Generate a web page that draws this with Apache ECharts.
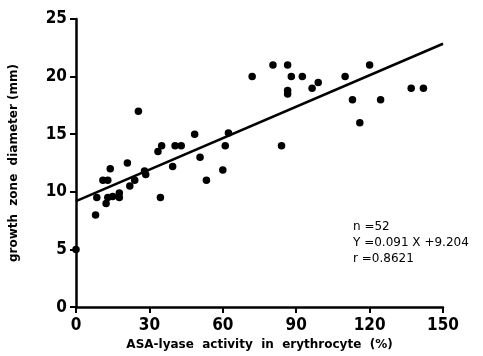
<!DOCTYPE html>
<html>
<head>
<meta charset="utf-8">
<script src="https://cdn.jsdelivr.net/npm/echarts@6/dist/echarts.min.js"></script>
<style>
  html, body { margin: 0; padding: 0; background: #fff; }
  #chart { width: 483px; height: 356px; }
</style>
</head>
<body>
<div id="chart"></div>
<script>
// ASA-lyase activity (%) vs growth zone diameter (mm)
const activity = [0, 8, 8.5, 11, 13, 12.3, 13, 15, 17.7, 17.7, 14, 21, 22, 24, 25.5, 28, 28.5,
  34.5, 33.5, 35, 39.5, 40.5, 43, 48.5, 50.7, 53.3, 60, 61, 62.3,
  72, 80.5, 84, 86.5, 86.5, 86.5, 88, 92.5, 96.5, 99, 110, 113, 116, 120, 124.5, 137, 142]
const diameter = [5, 8, 9.5, 11, 11, 9, 9.5, 9.6, 9.9, 9.5, 12, 12.5, 10.5, 11, 17, 11.8, 11.5,
  9.5, 13.5, 14, 12.2, 14, 14, 15, 13, 11, 11.9, 14, 15.1,
  20, 21, 14, 21, 18.8, 18.5, 20, 20, 19, 19.5, 20, 18, 16, 21, 18, 19, 19]
const slope = 0.091
const intercept = 9.204
const fitRange = [0, 150]
const statLines = ['n =52', 'Y =0.091 X +9.204', 'r =0.8621']

const labelFont = "'Liberation Sans Narrow', 'DejaVu Sans Condensed', 'Liberation Sans', sans-serif"

const chart = echarts.init(document.getElementById('chart'))
const points = activity.map((x, i) => [x, diameter[i]])
const fit = fitRange.map(x => [x, slope * x + intercept])

const option = {
  animation: false,
  grid: { left: 73, right: 40, top: 19, bottom: 46 },
  xAxis: {
    type: 'value',
    min: 0,
    max: 150,
    interval: 30,
    name: 'ASA-lyase  activity  in  erythrocyte  (%)',
    nameLocation: 'middle',
    nameGap: 31,
    nameTextStyle: { color: '#000', fontFamily: 'DejaVu Sans', fontWeight: 'bold', fontSize: 12 },
    axisLine: { lineStyle: { color: '#000', width: 2.5 } },
    axisTick: { show: true, length: 6, lineStyle: { color: '#000', width: 2 } },
    axisLabel: { color: '#000', fontFamily: labelFont, fontWeight: 'bold', fontSize: 17, margin: 10 },
    splitLine: { show: false }
  },
  yAxis: {
    type: 'value',
    min: 0,
    max: 25,
    interval: 5,
    name: 'growth  zone  diameter (mm)',
    nameLocation: 'middle',
    nameGap: 56,
    nameRotate: 90,
    nameTextStyle: { color: '#000', fontFamily: 'DejaVu Sans', fontWeight: 'bold', fontSize: 12 },
    axisLine: { show: true, lineStyle: { color: '#000', width: 2.5 } },
    axisTick: { show: true, length: 6, lineStyle: { color: '#000', width: 2 } },
    axisLabel: { color: '#000', fontFamily: labelFont, fontWeight: 'bold', fontSize: 17, margin: 9 },
    splitLine: { show: false }
  },
  series: [
    {
      type: 'scatter',
      data: points,
      symbol: 'circle',
      symbolSize: 7.5,
      itemStyle: { color: '#000', opacity: 1 },
      z: 3
    },
    {
      type: 'line',
      data: fit,
      showSymbol: false,
      lineStyle: { color: '#000', width: 2.5 },
      z: 2
    }
  ],
  graphic: statLines.map((t, i) => ({
    type: 'text',
    left: 353,
    top: 221 + i * 16,
    style: { text: t, fill: '#000', font: "12px 'DejaVu Sans', sans-serif" }
  }))
}

chart.setOption(option)
</script>
</body>
</html>
